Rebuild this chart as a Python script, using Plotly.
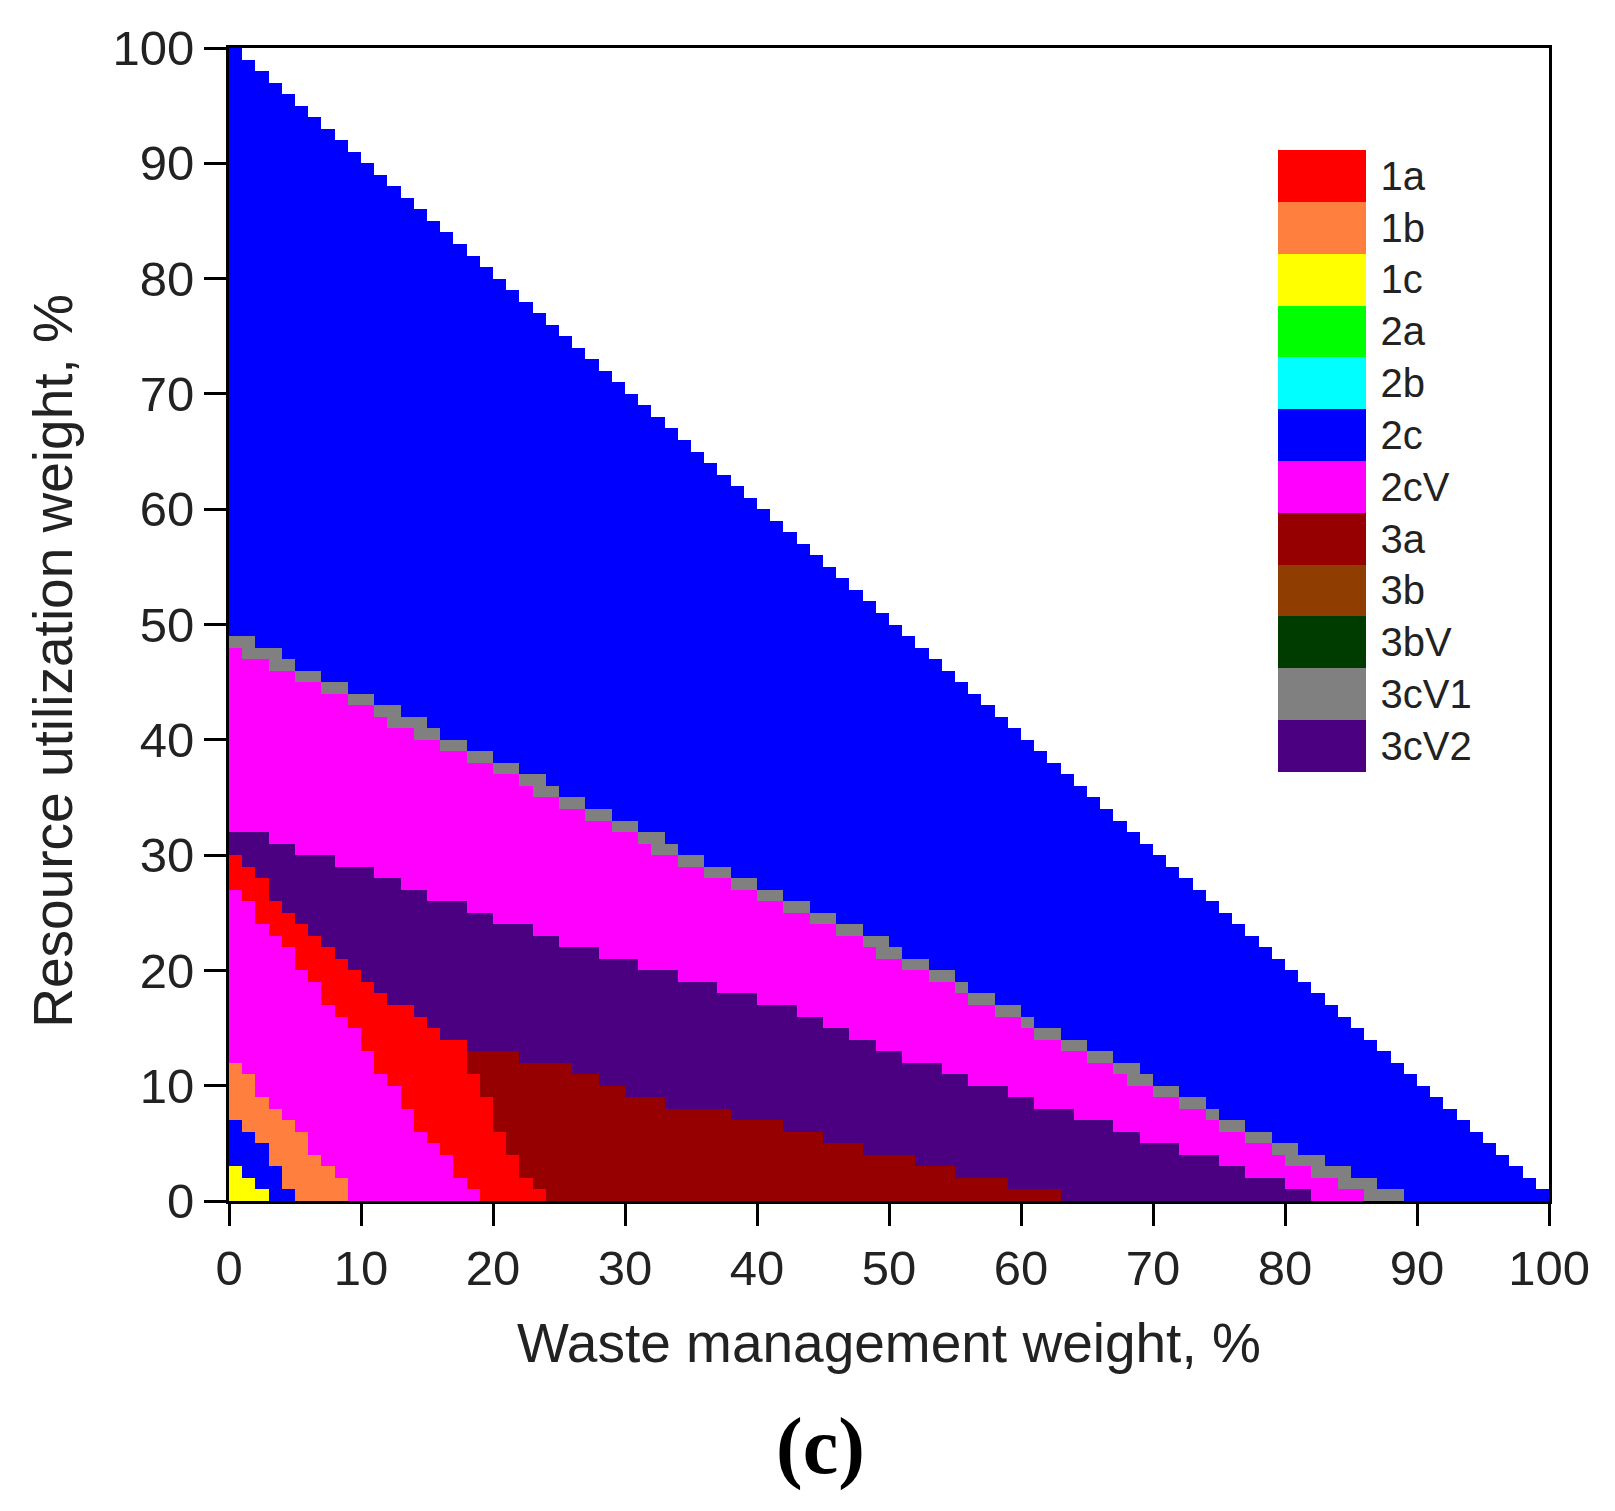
import numpy as np
import plotly.graph_objects as go

# scenarios in legend order (top to bottom) and their colours
scenarios = ["1a", "1b", "1c", "2a", "2b", "2c", "2cV", "3a", "3b", "3bV", "3cV1", "3cV2"]
colors = ["#FF0000", "#FF7F3F", "#FFFF00", "#00FF00", "#00FFFF", "#0000FF",
          "#FF00FF", "#960000", "#8F3D00", "#003C00", "#808080", "#4B0082"]

ticks = [0, 10, 20, 30, 40, 50, 60, 70, 80, 90, 100]

# region boundaries:
# resource utilization weight (y) where a region ends, at waste weight (x)
yellow_x = [0, 3]
yellow_y = [3.5, 0]

blue_in_x = [0, 1.5, 3, 4, 5.4]
blue_in_y = [7.3, 6, 5, 2, 0]

orange_x = [0, 5.6, 9.6]
orange_y = [12.5, 5.5, 0]

magenta_in_x = [0, 5.6, 9.9, 13.7, 19.2]
magenta_in_y = [27.5, 20.1, 14.2, 7.6, 0]

red_x = [0, 2.5, 5.6, 9.6, 12.7, 16.5, 17.5, 18.5, 20.5, 22.5, 23.8]
red_y = [30.4, 27.6, 24.1, 20.1, 17.2, 14.0, 13.6, 11.0, 6.1, 2.3, 0]

darkred_x = [17.5, 24.6, 31.6, 35, 39.2, 41.7, 49.2, 57, 65]
darkred_y = [13.6, 11.9, 9.0, 7.8, 7.3, 6.6, 4.2, 2.0, 0]

purple_x = [0, 5.6, 10.6, 15.4, 20.5, 25.4, 31.5, 36, 42.5, 50.4, 57.5, 65.4, 72.9, 81.5, 83]
purple_y = [32.6, 30.4, 28.5, 26.5, 24.4, 22.4, 20.3, 18.7, 16.7, 12.8, 10.1, 6.9, 4.2, 0.8, 0]

gray_lo_x = [0, 24, 39, 44, 53, 62, 71, 80, 87.5]
gray_lo_y = [48.3, 35.2, 26.8, 24.6, 19.5, 14.1, 9.0, 3.7, 0]

gray_hi_x = [0, 24, 39, 44, 53, 62, 71, 80, 90]
gray_hi_y = [49.5, 36.3, 27.9, 25.7, 20.6, 15.2, 10.1, 4.8, 0]

layers = [
    ("1c", yellow_x, yellow_y),
    ("2c", blue_in_x, blue_in_y),
    ("1b", orange_x, orange_y),
    ("2cV", magenta_in_x, magenta_in_y),
    ("1a", red_x, red_y),
    ("3a", darkred_x, darkred_y),
    ("3cV2", purple_x, purple_y),
    ("2cV", gray_lo_x, gray_lo_y),
    ("3cV1", gray_hi_x, gray_hi_y),
]

n = len(scenarios)
code_of = {s: n - 1 - i for i, s in enumerate(scenarios)}  # colorbar runs bottom-up

# 1% grid of cells, only the triangle where both weights add up to <= 100
xc = np.arange(100) + 0.5
yc = np.arange(100) + 0.5
X, Y = np.meshgrid(xc, yc)
inside = (X + Y) <= 100

z = np.full(X.shape, np.nan)
done = np.zeros(X.shape, dtype=bool)
for name, bx, by in layers:
    lim = np.interp(xc, bx, by, left=-1, right=-1)
    m = (Y < lim[None, :]) & inside & ~done
    z[m] = code_of[name]
    done |= m
z[inside & ~done] = code_of["2c"]

# discrete colour scale
cscale = []
for k in range(n):
    c = colors[n - 1 - k]
    cscale.append([k / n, c])
    cscale.append([(k + 1) / n, c])

fig = go.Figure()
fig.add_trace(go.Heatmap(
    x=xc, y=yc, z=z,
    colorscale=cscale, zmin=-0.5, zmax=n - 0.5,
    hoverinfo="skip",
    colorbar=dict(
        x=0.795, xanchor="left", y=0.642, yanchor="middle",
        xpad=0, ypad=0,
        lenmode="pixels", len=622,
        thicknessmode="pixels", thickness=88,
        outlinewidth=0,
        tickvals=list(range(n)),
        ticktext=[scenarios[n - 1 - k] for k in range(n)],
        ticks="outside", ticklen=7, tickcolor="rgba(0,0,0,0)",
        tickfont=dict(family="Liberation Sans", size=40, color="#222"),
    ),
))

axis_style = dict(
    range=[0, 100], tickvals=ticks,
    ticks="outside", ticklen=22, tickwidth=3, tickcolor="black",
    showline=True, linewidth=3, linecolor="black", mirror=True,
    showgrid=False, zeroline=False,
    tickfont=dict(family="Liberation Sans", size=49, color="#222"),
)
fig.update_xaxes(**axis_style)
fig.update_yaxes(**axis_style)

fig.update_layout(
    width=1615, height=1511,
    margin=dict(l=221, r=74, t=40, b=318),
    plot_bgcolor="white", paper_bgcolor="white",
    annotations=[
        dict(text="Waste management weight, %", x=0.5, y=-0.123,
             xref="paper", yref="paper", showarrow=False, yanchor="middle",
             font=dict(family="Liberation Sans", size=55, color="#222")),
        dict(text="Resource utilization weight, %", x=-0.133, y=0.469,
             xref="paper", yref="paper", showarrow=False, textangle=-90,
             xanchor="center", yanchor="middle",
             font=dict(family="Liberation Sans", size=55, color="#222")),
        dict(text="<b>(c)</b>", x=0.448, y=-0.213,
             xref="paper", yref="paper", showarrow=False, yanchor="middle",
             font=dict(family="Liberation Serif", size=80, color="black")),
    ],
)

fig.write_html("out.html")
